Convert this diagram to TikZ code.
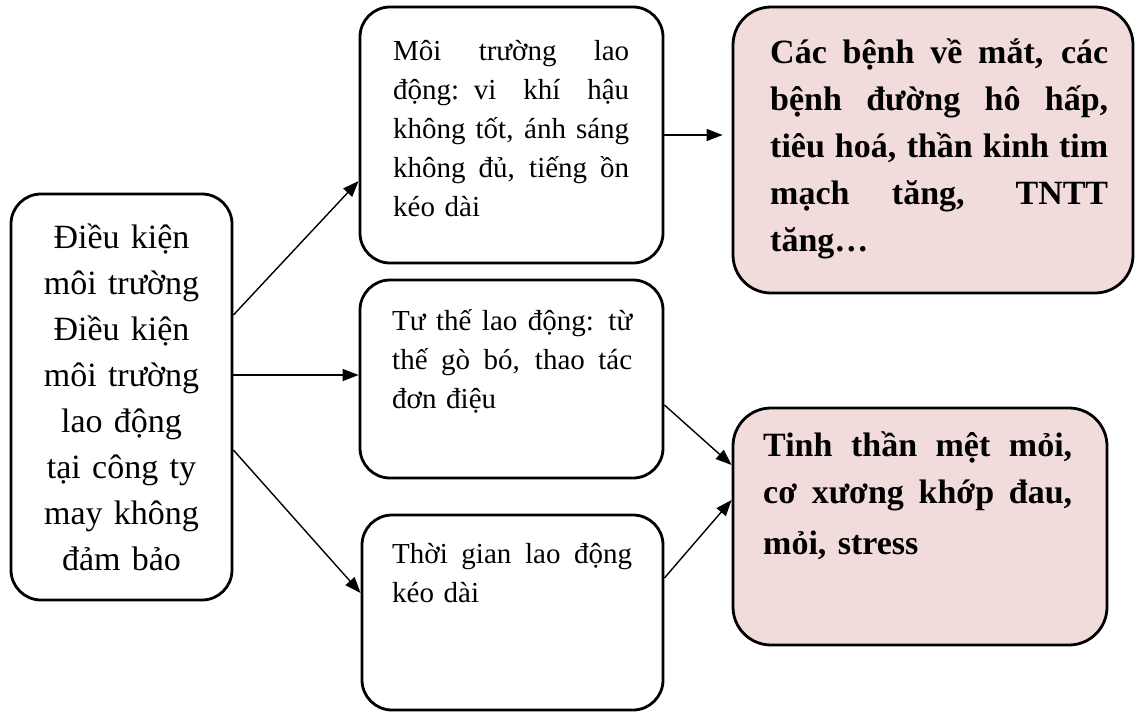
\documentclass[tikz,border=0pt]{standalone}
\usepackage{fontspec}
\setmainfont{Liberation Serif}
\usetikzlibrary{arrows.meta}
\definecolor{rosefill}{RGB}{242,220,219}
% one justified line: the spaces share the room equally
\newcommand\fullline[2]{\leavevmode\hbox to #1{\spaceskip=.25em plus 1fil\relax #2}}
\tikzset{
  box/.style={draw, line width=2.8pt, rounded corners=30pt, inner sep=0pt},
  outbox/.style={box, fill=rosefill, rounded corners=38pt},
  bigtxt/.style={inner sep=0pt, anchor=base, align=center, text width=221pt,
    font=\fontsize{34pt}{46pt}\selectfont},
  midtxt/.style={inner sep=0pt, anchor=base west, align=left, text width=#1,
    font=\fontsize{29pt}{39pt}\selectfont},
  boldtxt/.style={inner sep=0pt, anchor=base west, align=left, text width=#1,
    font=\fontsize{34pt}{47pt}\selectfont\bfseries},
  link/.style={line width=1.4pt, -{Triangle[length=16pt,width=12pt]}},
}
\begin{document}
\begin{tikzpicture}[x=1pt, y=-1pt]
\useasboundingbox (0,0) rectangle (1137,712);

% boxes
\node[box, minimum width=221pt, minimum height=406pt] (cond) at (121.5,397) {};
\node[box, minimum width=303pt, minimum height=256pt] (envbox) at (511.5,135) {};
\node[box, minimum width=303pt, minimum height=198pt] (posbox) at (511.5,379) {};
\node[box, minimum width=301pt, minimum height=195pt] (timebox) at (512.5,612.5) {};
\node[outbox, minimum width=400pt, minimum height=286pt] (diseasebox) at (933,150) {};
\node[outbox, minimum width=374pt, minimum height=237pt] (fatiguebox) at (920,526.5) {};

% texts
\node[bigtxt] (condtext) at (121.5,248)
  {Điều kiện\\môi trường\\Điều kiện\\môi trường\\lao động\\tại công ty\\may không\\đảm bảo};
\node[midtxt=236pt] (envtext) at (393,60)
  {\fullline{236pt}{Môi trường lao}\\\fullline{236pt}{động: vi khí hậu}\\
   \fullline{236pt}{không tốt, ánh sáng}\\\fullline{236pt}{không đủ, tiếng ồn}\\kéo dài};
\node[midtxt=240pt] (postext) at (392,330)
  {\fullline{240pt}{Tư thế lao động: từ}\\\fullline{240pt}{thế gò bó, thao tác}\\đơn điệu};
\node[midtxt=240pt] (timetext) at (392,563)
  {\fullline{240pt}{Thời gian lao động}\\kéo dài};
\node[boldtxt=338pt] (diseasetext) at (770,63)
  {\fullline{338pt}{Các bệnh về mắt, các}\\\fullline{338pt}{bệnh đường hô hấp,}\\
   \fullline{338pt}{tiêu hoá, thần kinh tim}\\\fullline{338pt}{mạch tăng, TNTT}\\tăng…};
\node[boldtxt=309pt] (fatiguetext) at (763,456)
  {\fullline{309pt}{Tinh thần mệt mỏi,}\\\fullline{309pt}{cơ xương khớp đau,}\\[4pt]mỏi, stress};

% connectors
\coordinate (midstart) at ([yshift=22pt]cond.east);
\draw[link] ([yshift=82pt]cond.east) -- ([yshift=-46pt]envbox.west);
\draw[link] (midstart) -- (midstart -| posbox.west);
\draw[link] ([yshift=-53pt]cond.east) -- ([yshift=19.5pt]timebox.west);
\draw[link, shorten >=9pt] (envbox.east) -- (envbox.east -| diseasebox.west);
\draw[link] ([yshift=-26pt]posbox.east) -- ([yshift=61.5pt]fatiguebox.west);
\draw[link] ([yshift=34.5pt]timebox.east) -- ([yshift=26.5pt]fatiguebox.west);
\end{tikzpicture}
\end{document}
